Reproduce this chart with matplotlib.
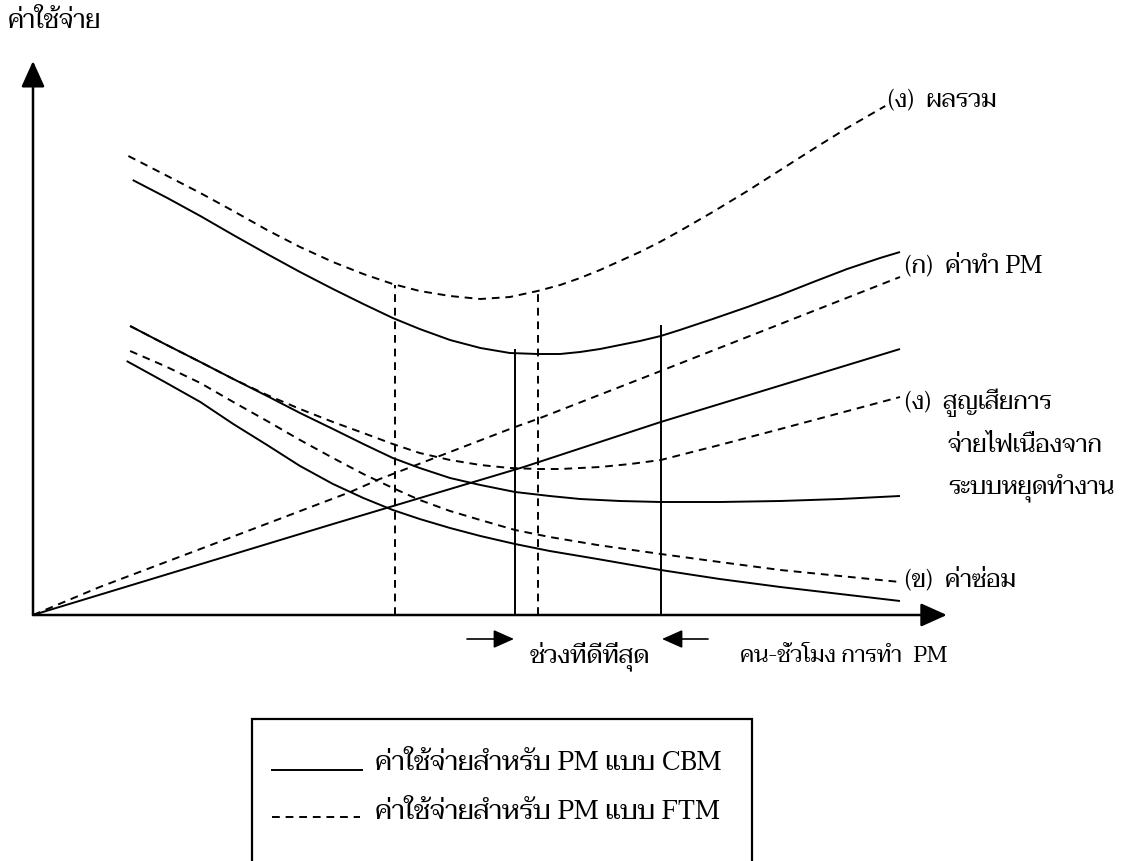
import matplotlib
matplotlib.use("Agg")
import matplotlib.pyplot as plt
from matplotlib import font_manager
from matplotlib.ft2font import FT2Font
from matplotlib.lines import Line2D
from matplotlib.patches import Rectangle, FancyArrowPatch

# ---------------------------------------------------------------- data
# x: PM man-hours (0..100), y: cost (0..100)
total_cbm_x = [11.5, 15.5, 19.3, 23.1, 27.0, 30.8, 34.6, 38.1, 41.5, 44.6, 48.1, 51.6, 55.0, 58.2,
               60.8, 63.1, 65.4, 67.7, 70.0, 72.4, 74.6, 78.4, 82.4, 86.2, 90.0, 93.9, 97.7, 100.0]
total_cbm_y = [87.0, 83.4, 79.8, 76.0, 72.2, 68.6, 65.2, 62.2, 59.4, 57.2, 55.0, 53.4, 52.4, 52.2,
               52.2, 52.6, 53.2, 54.0, 54.8, 55.8, 57.0, 59.2, 61.6, 64.0, 66.6, 69.2, 71.4, 72.6]

total_ftm_x = [11.0, 14.6, 19.3, 23.1, 27.0, 30.8, 34.6, 38.1, 41.5, 44.6, 48.1, 51.6, 55.0, 58.2,
               60.8, 63.1, 65.4, 67.7, 70.0, 72.3, 74.6, 78.4, 82.4, 86.2, 90.0, 93.9, 98.3]
total_ftm_y = [91.8, 88.6, 84.4, 80.8, 77.0, 73.6, 70.6, 68.2, 66.2, 64.8, 63.8, 63.2, 63.6, 64.8,
               66.0, 67.4, 69.0, 70.8, 72.6, 74.6, 76.8, 80.6, 84.8, 89.0, 93.2, 97.4, 101.8]

pm_cbm_x = [0.0, 34.6, 56.6, 72.4, 100.0]
pm_cbm_y = [0.0, 18.2, 29.6, 38.6, 53.2]

pm_ftm_x = [0.0, 7.7, 19.3, 36.6, 40.0, 55.6, 58.2, 72.4, 100.0]
pm_ftm_y = [0.0, 5.6, 13.2, 24.6, 27.2, 37.6, 39.2, 48.8, 67.6]

loss_cbm_x = [11.2, 15.2, 19.3, 23.1, 27.0, 30.8, 34.6, 38.1, 41.5, 44.6, 48.1, 51.6, 55.6, 59.6,
              63.1, 67.7, 72.4, 79.2, 86.2, 93.1, 100.0]
loss_cbm_y = [57.8, 54.2, 50.6, 47.2, 43.8, 40.4, 37.2, 34.2, 31.4, 29.4, 27.4, 26.0, 24.6, 23.8,
              23.2, 22.8, 22.6, 22.6, 22.8, 23.2, 23.8]

loss_ftm_x = [11.2, 15.2, 19.3, 23.1, 27.0, 30.8, 34.6, 38.1, 41.5, 44.6, 48.1, 51.6, 55.0, 58.2,
              60.8, 63.1, 65.4, 68.9, 72.4, 79.2, 86.2, 93.1, 100.0]
loss_ftm_y = [57.8, 54.2, 50.6, 47.2, 44.0, 41.2, 38.6, 36.4, 34.2, 32.4, 31.0, 30.0, 29.4, 29.2,
              29.2, 29.4, 29.6, 30.2, 31.0, 34.0, 37.2, 40.4, 43.6]

repair_ftm_x = [11.2, 15.2, 19.3, 23.1, 27.0, 30.8, 34.6, 38.1, 41.5, 44.6, 48.1, 51.6, 55.6, 59.6,
                65.1, 72.4, 79.2, 86.2, 93.1, 100.0]
repair_ftm_y = [52.8, 49.8, 46.4, 42.6, 38.8, 35.0, 31.4, 28.2, 25.4, 23.0, 20.8, 19.0, 17.0, 15.6,
                14.0, 12.2, 10.6, 9.0, 7.8, 6.6]

repair_cbm_x = [10.8, 15.2, 19.3, 23.1, 27.0, 30.8, 34.6, 38.1, 41.5, 44.6, 48.1, 51.6, 55.6, 59.6,
                65.1, 72.4, 79.2, 86.2, 93.1, 100.0]
repair_cbm_y = [50.8, 46.6, 42.6, 38.2, 34.0, 29.8, 26.2, 23.4, 21.0, 19.2, 17.4, 15.8, 14.2, 12.8,
                11.2, 9.0, 7.2, 5.6, 4.2, 2.8]

# optimum-range markers: (x, top)
ftm_marks_x = [41.75, 58.2]
ftm_marks_top = [66.0, 64.8]
cbm_marks_x = [55.6, 72.4]
cbm_marks_top = [53.2, 58.0]

y_label = "ค่าใช้จ่าย"
x_label = "คน-ชั่วโมง การทำ  PM"
best_label = "ช่วงที่ดีที่สุด"
lbl_total = "(ง)  ผลรวม"
lbl_pm = "(ก)  ค่าทำ PM"
lbl_loss = ["(ง)  สูญเสียการ", "จ่ายไฟเนื่องจาก", "ระบบหยุดทำงาน"]
lbl_repair = "(ข)  ค่าซ่อม"
legend_texts = ["ค่าใช้จ่ายสำหรับ PM แบบ CBM", "ค่าใช้จ่ายสำหรับ PM แบบ FTM"]


# ---------------------------------------------------------------- fonts
def thai_capable_fonts():
    found = {}
    for f in font_manager.fontManager.ttflist:
        if f.name in found:
            continue
        try:
            cmap = FT2Font(f.fname).get_charmap()
        except Exception:
            continue
        if 0x0E01 in cmap:
            found[f.name] = f.fname
    return found


thai = thai_capable_fonts()
preferred = ["Taviraj", "Trirong", "Pridi", "Kinnari", "Norasi", "Noto Serif Thai",
             "Sarabun", "Noto Sans Thai Looped", "Noto Sans Thai"]
families = [n for n in preferred if n in thai] + sorted(n for n in thai if n not in preferred)
plt.rcParams["font.family"] = families[:1] + ["Liberation Serif", "DejaVu Serif"]

# ---------------------------------------------------------------- figure
W, H = 1130, 862
fig = plt.figure(figsize=(W / 100, H / 100), dpi=100)
fig.patch.set_facecolor("white")


def fx(px):
    return px / W


def fy(py):
    return 1 - py / H


ax = fig.add_axes([fx(33), fy(616), fx(900) - fx(33), fy(116) - fy(616)])
ax.set_xlim(0, 100)
ax.set_ylim(0, 100)
ax.axis("off")

LW = 1.4
DASH = (0, (4, 3))
solid = dict(color="black", lw=LW, solid_capstyle="butt", solid_joinstyle="round", clip_on=False)
dashed = dict(color="black", lw=LW, linestyle=DASH, clip_on=False)

ax.plot(total_cbm_x, total_cbm_y, **solid)
ax.plot(total_ftm_x, total_ftm_y, **dashed)
ax.plot(pm_cbm_x, pm_cbm_y, **solid)
ax.plot(pm_ftm_x, pm_ftm_y, **dashed)
ax.plot(loss_cbm_x, loss_cbm_y, **solid)
ax.plot(loss_ftm_x, loss_ftm_y, **dashed)
ax.plot(repair_ftm_x, repair_ftm_y, **dashed)
ax.plot(repair_cbm_x, repair_cbm_y, **solid)

ax.vlines(ftm_marks_x, 0, ftm_marks_top, colors="black", lw=LW, linestyles=[DASH], clip_on=False)
ax.vlines(cbm_marks_x, 0, cbm_marks_top, colors="black", lw=LW, clip_on=False)

# axes with arrow heads
arrow_kw = dict(arrowstyle="-|>,head_length=1.0,head_width=0.45", mutation_scale=16,
                color="black", lw=1.8, shrinkA=0, shrinkB=0)
ax.annotate("", xy=(105.4, 0), xytext=(0, 0), arrowprops=arrow_kw, annotation_clip=False)
ax.annotate("", xy=(0, 110.8), xytext=(0, 0), arrowprops=arrow_kw, annotation_clip=False)

# ---------------------------------------------------------------- labels
FS = 17.6
fig.text(fx(8), fy(22), y_label, fontsize=18.4, va="center", ha="left")
fig.text(fx(888), fy(100), lbl_total, fontsize=FS, va="center", ha="left")
fig.text(fx(905), fy(266), lbl_pm, fontsize=FS, va="center", ha="left")
fig.text(fx(905), fy(403), lbl_loss[0], fontsize=FS, va="center", ha="left")
fig.text(fx(948), fy(446), lbl_loss[1], fontsize=FS, va="center", ha="left")
fig.text(fx(948), fy(489), lbl_loss[2], fontsize=FS, va="center", ha="left")
fig.text(fx(905), fy(580), lbl_repair, fontsize=FS, va="center", ha="left")
fig.text(fx(530), fy(656), best_label, fontsize=18.3, va="center", ha="left")
fig.text(fx(740), fy(656), x_label, fontsize=16.2, va="center", ha="left")

small_arrow = dict(arrowstyle="-|>,head_length=0.9,head_width=0.4", mutation_scale=14,
                   color="black", lw=1.2, shrinkA=0, shrinkB=0)
for tail, tip in [(467, 514), (708, 662)]:
    fig.patches.append(FancyArrowPatch((fx(tail), fy(640)), (fx(tip), fy(640)),
                                       transform=fig.transFigure, **small_arrow))

# legend box (its lower part runs past the bottom edge)
fig.patches.append(Rectangle((fx(252), fy(900)), fx(752) - fx(252), fy(720) - fy(900),
                             transform=fig.transFigure, fill=False, ec="black", lw=1.6))
fig.lines.append(Line2D([fx(272), fx(362)], [fy(771), fy(771)], transform=fig.transFigure,
                        color="black", lw=LW))
fig.lines.append(Line2D([fx(272), fx(360)], [fy(818), fy(818)], transform=fig.transFigure,
                        color="black", lw=LW, linestyle=(0, (4, 3))))
LFS = 19.5
fig.text(fx(375), fy(764), legend_texts[0], fontsize=LFS, va="center", ha="left")
fig.text(fx(375), fy(813), legend_texts[1], fontsize=LFS, va="center", ha="left")

fig.savefig("out.png", dpi=100, facecolor="white")
